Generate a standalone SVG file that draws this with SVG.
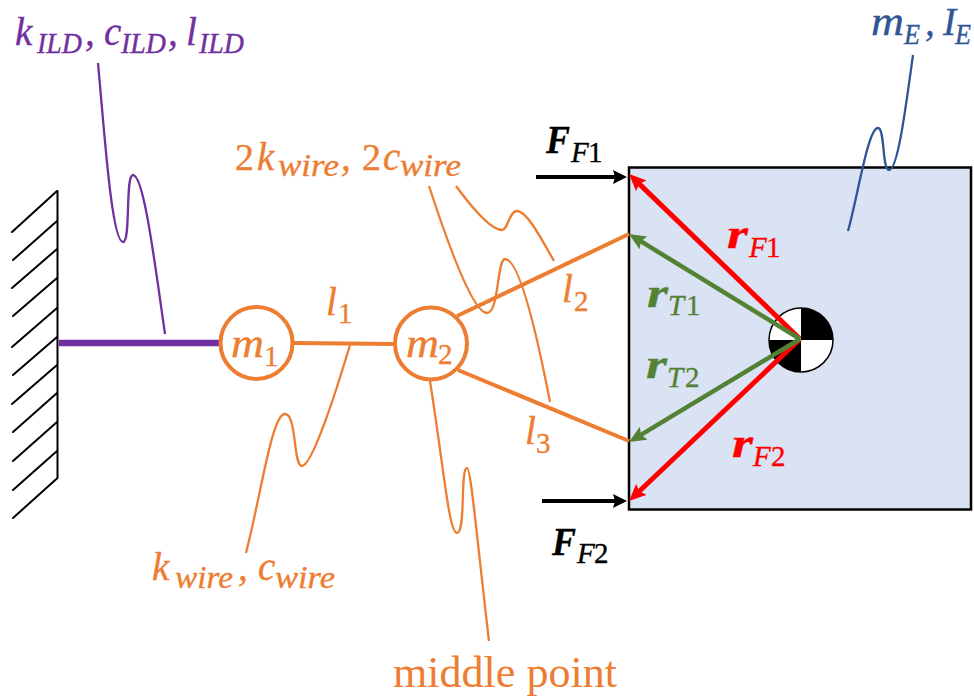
<svg xmlns="http://www.w3.org/2000/svg" width="974" height="698" viewBox="0 0 974 698">
<style>
text{font-family:"Liberation Serif","Times New Roman",serif;stroke-width:.35}
.i{font-style:italic;font-size:39px}
.n{font-style:normal;font-size:38px}
.s{font-style:italic;font-size:29px}
.w{font-style:italic;font-size:31px}
.u{font-style:normal;font-size:29px}
.b{font-style:italic;font-weight:bold;font-size:40px}
.or{fill:#ED7D31;stroke:#ED7D31}.pu{fill:#7030A0;stroke:#7030A0}.bl{fill:#2F5597;stroke:#2F5597}.re{fill:#FF0000;stroke:#FF0000}.gr{fill:#548235;stroke:#548235}.bk{fill:#000;stroke:#000}
.leader{fill:none;stroke-width:2.3;stroke-linecap:butt}
.wire{stroke:#ED7D31;stroke-width:4;fill:none}
.hatch{stroke:#000;stroke-width:2;fill:none;stroke-linecap:round}
</style>
<defs>
<marker id="hr" markerUnits="userSpaceOnUse" markerWidth="17" markerHeight="16" viewBox="0 0 17 16" refX="9" refY="8" orient="auto"><path d="M0,0.5L17,8L0,15.5L3,8z" fill="#FF0000"/></marker>
<marker id="hg" markerUnits="userSpaceOnUse" markerWidth="17" markerHeight="16" viewBox="0 0 17 16" refX="9" refY="8" orient="auto"><path d="M0,0.5L17,8L0,15.5L3,8z" fill="#548235"/></marker>
<marker id="hk" markerUnits="userSpaceOnUse" markerWidth="14" markerHeight="14" viewBox="0 0 14 14" refX="8" refY="7" orient="auto"><path d="M0,0L14,7L0,14L2,7z" fill="#000"/></marker>
</defs>
<rect width="974" height="698" fill="#fff"/>

<g id="wall">
<path class="hatch" d="M57.5,191V478M57,191L12,232M57,221L13,260M57,249L12,288M57,278L13,316M57,308L12,347M57,337L13,375M57,365L12,404M57,393L13,432M57,422L13,461M57,451L13,490M57.5,478L13,518"/>
</g>

<g id="end-effector">
<rect x="629" y="167.500" width="342" height="342" fill="#DAE3F3" stroke="#000" stroke-width="2.500"/>
</g>

<g id="center-of-mass">
<circle cx="801" cy="340" r="32" fill="#fff" stroke="#000" stroke-width="1.500"/>
<path d="M801,340V308A32,32 0 0 1 833,340zM801,340V372A32,32 0 0 1 769,340z" fill="#000"/>
</g>

<g id="connectors">
<line x1="59" y1="343" x2="220" y2="343" stroke="#7030A0" stroke-width="6.500"/>
<path class="wire" d="M294,343L394,344M457,316L629,234M458,370L629,441"/>
<path class="leader" stroke="#7030A0" d="M98,63C105,140 112,242 123,242C131,242 125,175 133,175C144,175 155,265 165,334"/>
<path class="leader" stroke="#ED7D31" d="M350,345C335,395 312,466 302,466C293,466 297,414 285,414C272,414 262,490 246,553"/>
<path class="leader" stroke="#ED7D31" d="M430,381C444,470 449,533 457,533C466,533 460,468 467,468C471,468 477,540 489,641"/>
<path class="leader" stroke="#ED7D31" d="M429,186C445,235 472,313 487,313C499,313 497,259 505,259C520,259 538,340 550,402"/>
<path class="leader" stroke="#ED7D31" d="M456,186C470,205 490,230 502,230C508,230 509,211 517,211C527,211 542,240 554,261"/>
<path class="leader" stroke="#2F5597" d="M913,55C906,105 898,170 889,170C882,170 885,128 878,128C868,128 858,195 848,231"/>
<line x1="800" y1="339" x2="634.800" y2="179.600" stroke="#FF0000" stroke-width="5" marker-end="url(#hr)"/>
<line x1="800" y1="339" x2="634.800" y2="495.500" stroke="#FF0000" stroke-width="5" marker-end="url(#hr)"/>
<line x1="800" y1="339" x2="635.800" y2="238.200" stroke="#548235" stroke-width="4.500" marker-end="url(#hg)"/>
<line x1="800" y1="339" x2="635.900" y2="437.900" stroke="#548235" stroke-width="4.500" marker-end="url(#hg)"/>
<line x1="536" y1="177" x2="621" y2="177" stroke="#000" stroke-width="4" marker-end="url(#hk)"/>
<line x1="542" y1="501" x2="621" y2="501" stroke="#000" stroke-width="4" marker-end="url(#hk)"/>
</g>

<g id="m1">
<circle cx="256.500" cy="343" r="36" fill="none" stroke="#ED7D31" stroke-width="4"/>
<text class="or"><tspan class="i" x="231" y="357" textLength="33" lengthAdjust="spacingAndGlyphs">m</tspan><tspan class="u" x="264" y="366">1</tspan></text>
</g>
<g id="m2">
<circle cx="431" cy="343.500" r="36" fill="none" stroke="#ED7D31" stroke-width="4"/>
<text class="or"><tspan class="i" x="406" y="357" textLength="33" lengthAdjust="spacingAndGlyphs">m</tspan><tspan class="u" x="438" y="364">2</tspan></text>
</g>

<g id="labels">
<text class="pu"><tspan class="i" x="15" y="45">k</tspan><tspan class="s" x="37" y="53" textLength="45" lengthAdjust="spacingAndGlyphs">ILD</tspan><tspan class="i" x="85" y="45">,</tspan><tspan class="i" x="104" y="45">c</tspan><tspan class="s" x="121" y="53" textLength="45" lengthAdjust="spacingAndGlyphs">ILD</tspan><tspan class="i" x="168" y="45">,</tspan><tspan class="i" x="186" y="45">l</tspan><tspan class="s" x="199" y="53" textLength="45" lengthAdjust="spacingAndGlyphs">ILD</tspan></text>
<text class="or"><tspan class="n" x="235" y="170">2</tspan><tspan class="i" x="257" y="170">k</tspan><tspan class="w" x="278" y="176" textLength="61" lengthAdjust="spacingAndGlyphs">wire</tspan><tspan class="i" x="341" y="170">,</tspan><tspan class="n" x="362" y="170">2</tspan><tspan class="i" x="383" y="170">c</tspan><tspan class="w" x="400" y="176" textLength="61" lengthAdjust="spacingAndGlyphs">wire</tspan></text>
<text class="or"><tspan class="i" x="152" y="580">k</tspan><tspan class="w" x="175" y="588" textLength="58" lengthAdjust="spacingAndGlyphs">wire</tspan><tspan class="i" x="238" y="580">,</tspan><tspan class="i" x="258" y="580">c</tspan><tspan class="w" x="275" y="588" textLength="60" lengthAdjust="spacingAndGlyphs">wire</tspan></text>
<text class="or"><tspan class="i" x="326" y="315">l</tspan><tspan class="u" x="338" y="323">1</tspan></text>
<text class="or"><tspan class="i" x="562" y="302">l</tspan><tspan class="u" x="574" y="311">2</tspan></text>
<text class="or"><tspan class="i" x="525" y="444">l</tspan><tspan class="u" x="536" y="453">3</tspan></text>
<text class="or" x="393" y="687" font-size="44" textLength="224" lengthAdjust="spacingAndGlyphs" style="stroke-width:0">middle point</text>
<text class="bk"><tspan class="b" x="546" y="153" textLength="24" lengthAdjust="spacingAndGlyphs">F</tspan><tspan class="s" x="571" y="162">F</tspan><tspan class="u" x="588" y="162">1</tspan></text>
<text class="bk"><tspan class="b" x="552" y="555" textLength="24" lengthAdjust="spacingAndGlyphs">F</tspan><tspan class="s" x="577" y="563">F</tspan><tspan class="u" x="594" y="563">2</tspan></text>
<text class="re"><tspan class="b" x="727" y="248" textLength="21" lengthAdjust="spacingAndGlyphs">r</tspan><tspan class="s" x="749" y="257">F</tspan><tspan class="u" x="766" y="257">1</tspan></text>
<text class="re"><tspan class="b" x="732" y="457" textLength="21" lengthAdjust="spacingAndGlyphs">r</tspan><tspan class="s" x="753" y="466">F</tspan><tspan class="u" x="771" y="466">2</tspan></text>
<text class="gr"><tspan class="b" x="647" y="307" textLength="21" lengthAdjust="spacingAndGlyphs">r</tspan><tspan class="s" x="668" y="315">T</tspan><tspan class="u" x="686" y="315">1</tspan></text>
<text class="gr"><tspan class="b" x="646" y="378" textLength="21" lengthAdjust="spacingAndGlyphs">r</tspan><tspan class="s" x="667" y="387">T</tspan><tspan class="u" x="685" y="387">2</tspan></text>
<text class="bl"><tspan class="i" x="871" y="35" textLength="33" lengthAdjust="spacingAndGlyphs">m</tspan><tspan class="s" x="904" y="44" textLength="16" lengthAdjust="spacingAndGlyphs">E</tspan><tspan class="i" x="925" y="35">,</tspan><tspan class="i" x="943" y="35">I</tspan><tspan class="s" x="955" y="44" textLength="16" lengthAdjust="spacingAndGlyphs">E</tspan></text>
</g>
</svg>
